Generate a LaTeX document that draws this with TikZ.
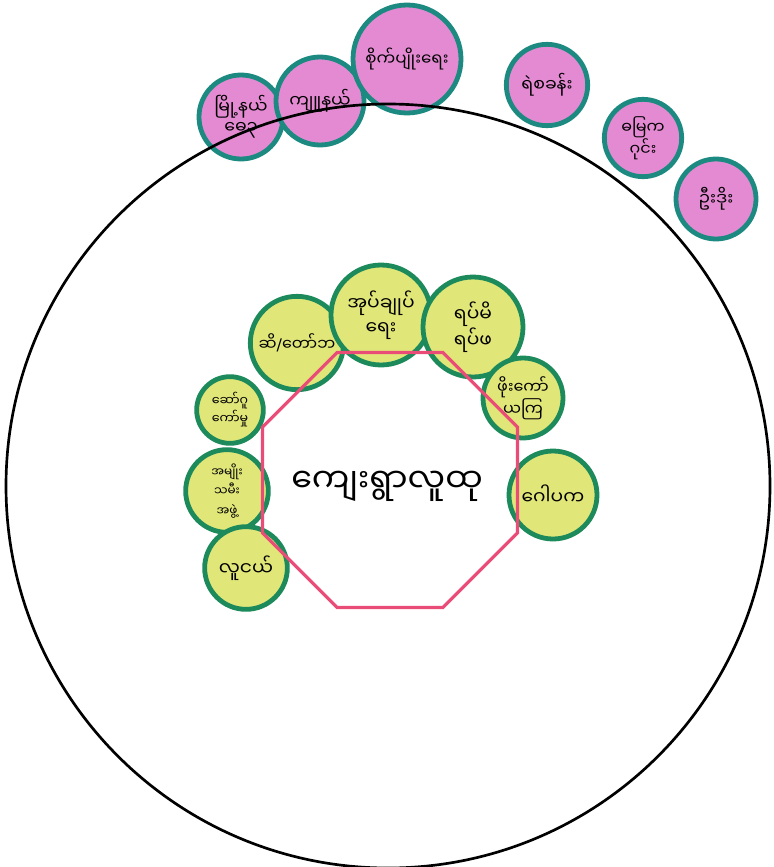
\documentclass[tikz,border=0pt]{standalone}
\usepackage{fontspec}
\newfontfamily\mya[Script=Myanmar]{Noto Sans Myanmar UI}
\newfontfamily\slashfont{DejaVu Sans}
\definecolor{pinkf}{HTML}{E48AD3}
\definecolor{tealb}{HTML}{1C8A80}
\definecolor{greenf}{HTML}{E1E679}
\definecolor{greenb}{HTML}{1D8A5C}
\definecolor{octred}{HTML}{EA4C78}
\tikzset{
  outer/.style={circle, draw=tealb, fill=pinkf, line width=3.6pt, inner sep=0pt, align=center, font=\mya\fontsize{13}{15}\selectfont},
  inner/.style={circle, draw=greenb, fill=greenf, line width=3.6pt, inner sep=0pt, align=center, font=\mya\fontsize{13}{15}\selectfont},
  octline/.style={draw=octred, line width=2.4pt, line join=miter},
  coretext/.style={font=\mya\fontsize{25}{30}\selectfont, inner sep=0pt},
  worldline/.style={draw=black, line width=2pt}
}
\begin{document}
\begin{tikzpicture}[x=0.75pt,y=-0.75pt]
\fill[white] (0,0) rectangle (774,867);
\useasboundingbox (0,0) rectangle (774,867);
% outer (pink) actors
\node[outer, minimum size=63pt] (p1) at (241,117) {မြို့နယ်\\ဓေ၃};
\node[outer, minimum size=66pt] (p2) at (320,101) {ကျူနယ်};
\node[outer, minimum size=81pt, font=\mya\fontsize{12.5}{15}\selectfont] (p3) at (407,59) {စိုက်ပျိုးရေး};
\node[outer, minimum size=61pt] (p4) at (547,85) {ရဲစခန်း};
\node[outer, minimum size=58pt, font=\mya\fontsize{12}{15}\selectfont] (p5) at (643,138) {ဓမြက\\ဂုင်း};
\node[outer, minimum size=60pt] (p6) at (716,199) {ဦးဒိုး};
% big circle (the community boundary)
\draw[worldline] (388,486) circle[radius=382];
% inner (green) actors
\node[inner, minimum size=70pt, font=\mya\fontsize{12}{14}\selectfont] (g1) at (297,343) {ဆိ{\slashfont/}တော်ဘ};
\node[inner, minimum size=75pt, font=\mya\fontsize{14}{18}\selectfont] (g2) at (381,315) {အုပ်ချုပ်\\ရေး};
\node[inner, minimum size=75pt, font=\mya\fontsize{14}{18}\selectfont] (g3) at (473,327) {ရပ်မိ\\ရပ်ဖ};
\node[inner, minimum size=60pt, font=\mya\fontsize{12}{15}\selectfont] (g4) at (523,398) {ဖိုးကော်\\ယကြ};
\node[inner, minimum size=66pt, font=\mya\fontsize{14}{17}\selectfont] (g5) at (553,495) {ဂေါပက};
\node[inner, minimum size=50pt, font=\mya\fontsize{9.5}{12}\selectfont] (g6) at (230,410) {ဆော်ဂူ\\ကော်မှု};
\node[inner, minimum size=62pt, font=\mya\fontsize{9}{14.5}\selectfont] (g7) at (227,491) {အမျိုး\\သမီး\\အဖွဲ့};
\node[inner, minimum size=62pt, font=\mya\fontsize{14}{17}\selectfont] (g8) at (246,568) {လူငယ်};
% village community (octagon)
\draw[octline, shift={(390,480)}] (22.5:138) -- (67.5:138) -- (112.5:138) -- (157.5:138)
  -- (202.5:138) -- (247.5:138) -- (292.5:138) -- (337.5:138) -- cycle;
\node[coretext] (vt) at (387,486) {ကျေးရွာလူထု};
\end{tikzpicture}
\end{document}
